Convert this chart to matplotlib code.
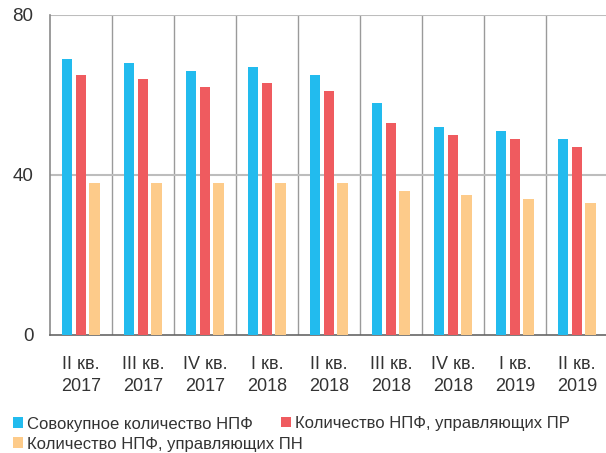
import matplotlib
matplotlib.use("Agg")
import matplotlib.pyplot as plt
import numpy as np

plt.rcParams['font.family'] = ['Liberation Sans', 'DejaVu Sans']

# Данные
kvartaly = ['II кв.\n2017', 'III кв.\n2017', 'IV кв.\n2017', 'I кв.\n2018', 'II кв.\n2018',
            'III кв.\n2018', 'IV кв.\n2018', 'I кв.\n2019', 'II кв.\n2019']
sovokupnoe = [69, 68, 66, 67, 65, 58, 52, 51, 49]
upr_pr = [65, 64, 62, 63, 61, 53, 50, 49, 47]
upr_pn = [38, 38, 38, 38, 38, 36, 35, 34, 33]
y_ticks = [0, 40, 80]

nazvaniya = ['Совокупное количество НПФ', 'Количество НПФ, управляющих ПР',
             'Количество НПФ, управляющих ПН']
cveta = ['#22BBEE', '#EF5B5F', '#FDCB8A']

fig = plt.figure(figsize=(6.06, 4.53), dpi=100)
ax = fig.add_axes([0.0825, 0.2605, 0.9175, 0.7065])

x = np.arange(len(kvartaly))
w = 0.17
b1 = ax.bar(x - 0.225, sovokupnoe, w, color=cveta[0], zorder=3)
b2 = ax.bar(x, upr_pr, w, color=cveta[1], zorder=3)
b3 = ax.bar(x + 0.22, upr_pn, w, color=cveta[2], zorder=3)

# сетка
for xv in x[:-1] + 0.5:
    ax.axvline(xv, color='#9a9a9a', lw=1, zorder=1)
for yv in y_ticks[1:]:
    ax.axhline(yv, color='#bdbdbd', lw=1.5, zorder=1)

ax.set_xlim(-0.5, 8.47)
ax.set_ylim(0, 80)
ax.set_yticks(y_ticks)
ax.set_xticks(x)
ax.set_xticklabels(kvartaly, fontsize=13, color='#333333', linespacing=1.4)
ax.tick_params(axis='y', length=0, pad=12, labelsize=13.5, labelcolor='#333333')
ax.tick_params(axis='x', length=0, pad=15)

for s in ['top', 'right']:
    ax.spines[s].set_visible(False)
ax.spines['left'].set_color('#8a8a8a')
ax.spines['bottom'].set_color('#666666')
ax.spines['left'].set_linewidth(1.2)
ax.spines['bottom'].set_linewidth(1.2)

opts = dict(loc='lower left', frameon=False, fontsize=12, handlelength=0.6,
            handleheight=0.6, handletextpad=0.25, labelspacing=0.3,
            labelcolor='#333333', borderaxespad=0, borderpad=0)
fig.legend([b1, b3], [nazvaniya[0], nazvaniya[2]],
           bbox_to_anchor=(0.022, 0.003), **opts)
fig.legend([b2], [nazvaniya[1]], bbox_to_anchor=(0.463, 0.049), **opts)

fig.savefig('out.png', dpi=100)
